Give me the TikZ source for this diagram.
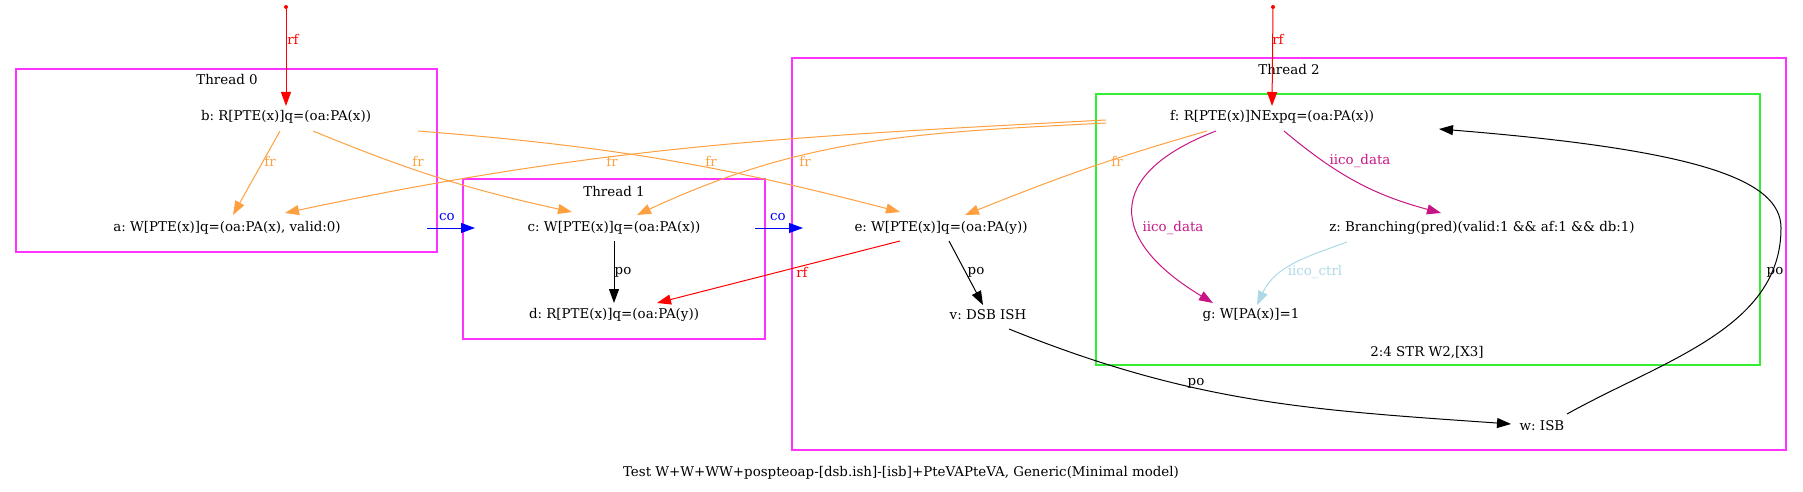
\documentclass[tikz,border=0pt]{standalone}
\usepackage{fontspec}
\setmainfont{DejaVu Serif}
\usepackage{tikz}
\definecolor{frorange}{HTML}{FFA040}
\definecolor{threadpink}{HTML}{FF33FF}
\definecolor{instrgreen}{HTML}{33EE33}
\definecolor{iicodata}{HTML}{C71585}
\definecolor{iicoctrl}{HTML}{ADD8E6}
\usetikzlibrary{arrows.meta}
\tikzstyle{arrow} = [line width=1pt,-{Triangle[length=14pt,width=10pt]}]
\frenchspacing

\begin{document}
\begin{tikzpicture}[x=1pt,y=-1pt]
                    \tikzstyle{every node}=[font=\fontsize{13.4}{15}\selectfont] \tikzstyle{event} =
                    [inner sep=0pt] \tikzstyle{initdot} = [circle, fill=red, inner sep=0pt, minimum size=4pt]
                    \tikzstyle{thread} = [draw=threadpink, line width=1.5pt] \tikzstyle{instr} = [draw=instrgreen, line width=1.5pt]
                    \tikzstyle{fredge} = [arrow, frorange] \tikzstyle{rfedge} = [arrow, red]
                    \tikzstyle{coedge} = [arrow, blue] \tikzstyle{poedge} = [arrow, black]
                    \tikzstyle{dataedge} = [arrow, iicodata] \tikzstyle{ctrledge} = [arrow, iicoctrl]

                    \useasboundingbox (0,0) rectangle (1803,492);

                    \draw[thread] (16,69) rectangle (437,252);
                    \draw[thread] (463,179) rectangle (765,339);
                    \draw[thread] (792,58) rectangle (1786,450);
                    \draw[instr] (1096,94) rectangle (1760,365);
                    \node (t0) at (227,80) {Thread 0};
                    \node (t1) at (614,192) {Thread 1};
                    \node (t2) at (1289,70) {Thread 2};
                    \node (ins) at (1427,352) {2:4 STR W2,[X3]};

                    \node[event](b) at (286,117) {b: R[PTE(x)]q=(oa:PA(x))};
                    \node[event](a) at (227,228) {a: W[PTE(x)]q=(oa:PA(x), valid:0)};
                    \node[event](c) at (614,228) {c: W[PTE(x)]q=(oa:PA(x))};
                    \node[event](d) at (614,315) {d: R[PTE(x)]q=(oa:PA(y))};
                    \node[event](e) at (941,228) {e: W[PTE(x)]q=(oa:PA(y))};
                    \node[event](v) at (988,315) {v: DSB ISH};
                    \node[event](f) at (1272,117) {f: R[PTE(x)]NExpq=(oa:PA(x))};
                    \node[event](z) at (1482,228) {z: Branching(pred)(valid:1 \&\& af:1 \&\& db:1)};
                    \node[event](g) at (1251,315) {g: W[PA(x)]=1};
                    \node[event](w) at (1542,426) {w: ISB};
                    \node[initdot](i0) at (286,7) {};
                    \node[initdot](i2) at (1273,7) {};
                    \coordinate (wturn) at (1781,228);

                    \draw[rfedge] (i0) -- ([shift={(0,-11)}]b.center) node at (293,39) {rf};
                    \draw[rfedge] (i2) -- ([shift={(0,-11)}]f.center) node at (1278,39) {rf};
                    \draw[fredge] ([shift={(-6,14)}]b.center) -- ([shift={(6,-13)}]a.center) node at (270,161) {fr};
                    \draw[fredge] ([shift={(27,14)}]b.center) to[bend right=5] ([shift={(-42,-16)}]c.center) node at (418,161) {fr};
                    \draw[fredge] ([shift={(132,14)}]b.center) to[bend left=5] ([shift={(-41,-16)}]e.center) node at (711,161) {fr};
                    \draw[fredge] ([shift={(-166,3)}]f.center) to[out=183,in=12] ([shift={(58,-15)}]a.center) node at (612,161) {fr};
                    \draw[fredge] ([shift={(-166,6)}]f.center) to[out=183,in=25] ([shift={(23,-13)}]c.center) node at (805,161) {fr};
                    \draw[fredge] ([shift={(-65,14)}]f.center) to[out=196,in=22] ([shift={(24,-13)}]e.center) node at (1117,161) {fr};
                    \draw[coedge] ([shift={(200,0)}]a.center) -- ([shift={(-139,0)}]c.center) node at (447,217) {co};
                    \draw[coedge] ([shift={(141,0)}]c.center) -- ([shift={(-138,0)}]e.center) node at (778,217) {co};
                    \draw[poedge] ([shift={(0,13)}]c.center) -- ([shift={(0,-12)}]d.center) node at (623,272) {po};
                    \draw[rfedge] ([shift={(-41,13)}]e.center) -- ([shift={(43,-12)}]d.center) node at (802,272) {rf};
                    \draw[poedge] ([shift={(8,13)}]e.center) -- ([shift={(-5,-10)}]v.center) node at (976,272) {po};
                    \draw[dataedge] ([shift={(-56,14)}]f.center) to[out=201,in=149,looseness=1.8] ([shift={(-38,-12)}]g.center) node at (1173,228) {iico\_data};
                    \draw[dataedge] ([shift={(12,14)}]f.center) to[out=-40,in=165] ([shift={(-41,-15)}]z.center) node at (1360,161) {iico\_data};
                    \draw[ctrledge] ([shift={(-135,14)}]z.center) to[out=200,in=65] ([shift={(6,-10)}]g.center) node at (1315,272) {iico\_ctrl};
                    \draw[poedge] ([shift={(21,14)}]v.center) to[out=-22,in=176] ([shift={(-31,-2)}]w.center) node at (1196,383) {po};
                    \draw[poedge] ([shift={(25,-12)}]w.center) .. controls +(97,-54) and +(0,100) .. (wturn)
                        .. controls +(0,-48) and +(261,21) .. ([shift={(167,12)}]f.center) node at (1775,272) {po};

                    \node (title) at (901,473) {Test W+W+WW+pospteoap-[dsb.ish]-[isb]+PteVAPteVA, Generic(Minimal model)};
        
            \end{tikzpicture}
\end{document}
